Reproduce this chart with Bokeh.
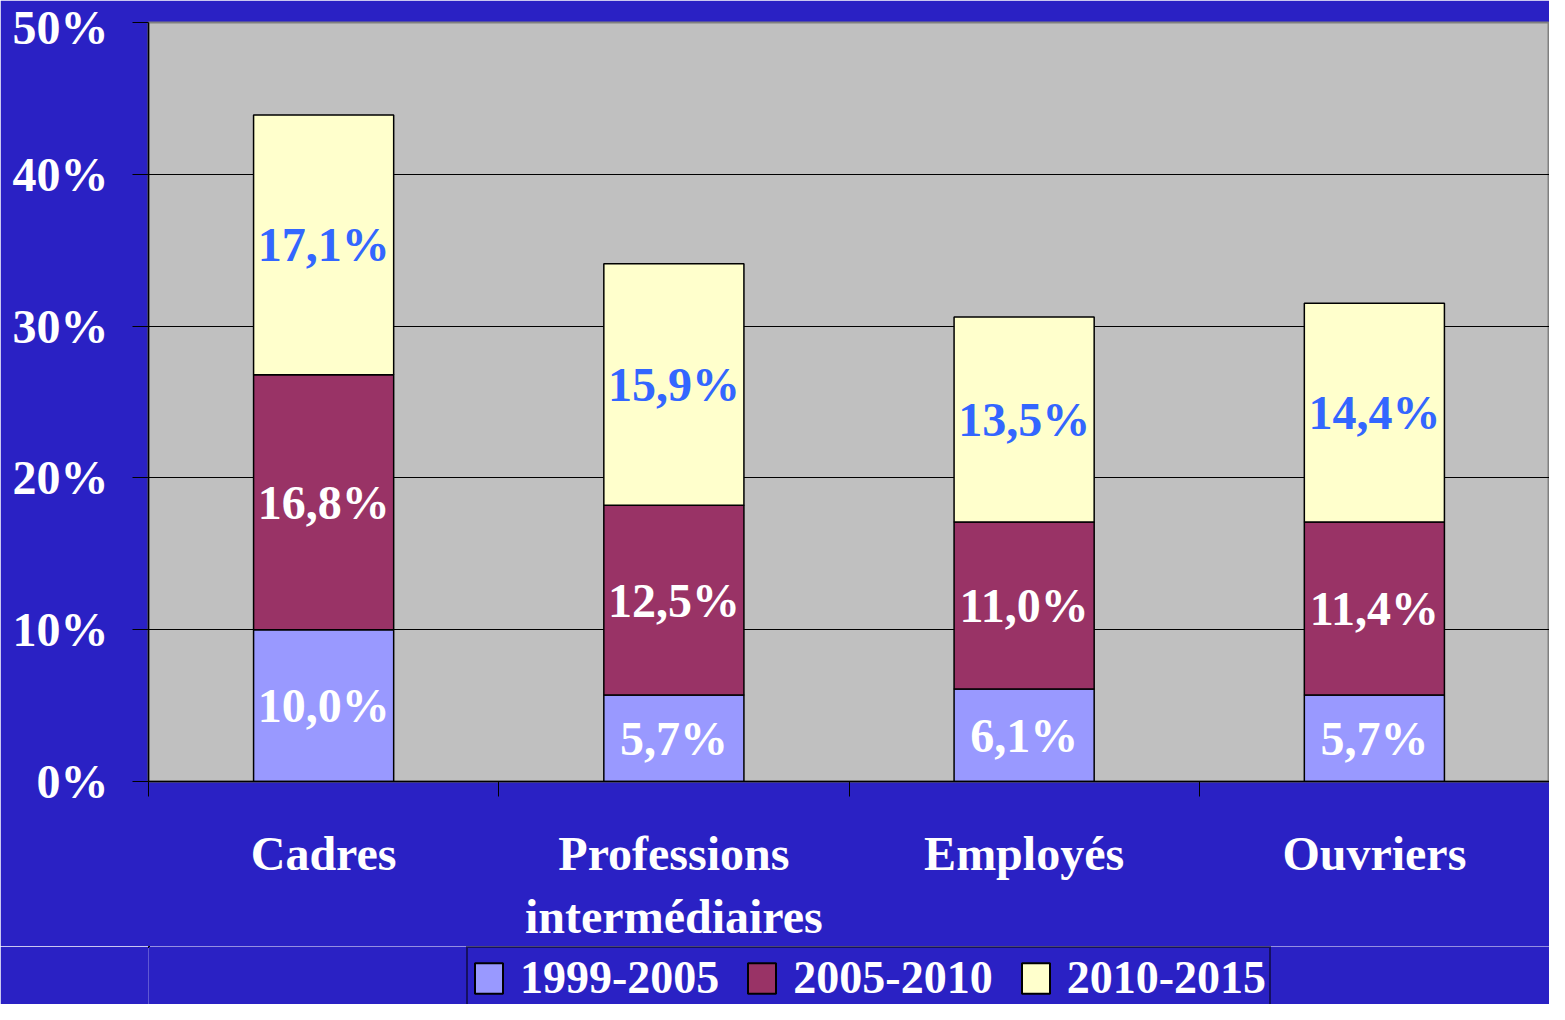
import numpy as np
from bokeh.plotting import figure
from bokeh.layouts import column
from bokeh.models import (Range1d, FixedTicker, Legend, LegendItem, ColumnDataSource,
                          PrintfTickFormatter)
from bokeh.core.properties import value
from bokeh.embed import file_html
from bokeh.resources import INLINE

# ---- data ----
categories = ["Cadres", "Professions\nintermédiaires", "Employés", "Ouvriers"]
periods = ["1999-2005", "2005-2010", "2010-2015"]
v_1999_2005 = [10.0, 5.7, 6.1, 5.7]
v_2005_2010 = [16.8, 12.5, 11.0, 11.4]
v_2010_2015 = [17.1, 15.9, 13.5, 14.4]
y_ticks = [0, 10, 20, 30, 40, 50]

series = [v_1999_2005, v_2005_2010, v_2010_2015]
colors = ["#9999FF", "#993366", "#FFFFCC"]
label_colors = ["white", "white", "#3366FF"]

FONT = "Liberation Serif"
FS = "48px"
BG = "#2A21C4"
W = 1549
LEFT = 148

n = len(categories)
xs = np.arange(n) + 0.5

p = figure(width=W, height=946, output_backend="svg", toolbar_location=None,
           x_range=Range1d(0, n), y_range=Range1d(y_ticks[0], y_ticks[-1]),
           min_border_left=LEFT, min_border_right=0, min_border_top=22,
           min_border_bottom=162)
p.background_fill_color = "#C0C0C0"
p.border_fill_color = BG
p.outline_line_color = "#808080"
p.outline_line_width = 2

# ---- legend strip (shares the bar sources; its view ranges show no bar) ----
pl = figure(width=W, height=58, output_backend="svg", toolbar_location=None,
            x_range=Range1d(n + 10, 2 * n + 10), y_range=Range1d(-20, -10),
            min_border_left=LEFT, min_border_right=0, min_border_top=0, min_border_bottom=0)
pl.axis.visible = False
pl.grid.visible = False
pl.background_fill_color = BG
pl.border_fill_color = BG
pl.outline_line_color = None

leg_renderers = []
bottom = np.zeros(n)
for vals, col, lcol in zip(series, colors, label_colors):
    vals = np.array(vals)
    top = bottom + vals
    src = ColumnDataSource(dict(
        x=xs, bottom=bottom, top=top, mid=(bottom + top) / 2,
        lab=[f"{v:.1f}%".replace(".", ",") for v in vals]))
    p.vbar(x="x", bottom="bottom", top="top", width=0.4, source=src,
           fill_color=col, line_color="black", line_width=1.5)
    p.text(x="x", y="mid", text="lab", source=src, text_align="center",
           text_baseline="middle", text_color=lcol, text_font=value(FONT),
           text_font_size=FS, text_font_style="bold")
    leg_renderers.append(pl.vbar(x="x", bottom="bottom", top="top", width=0.4, source=src,
                                 fill_color=col, line_color="black", line_width=2))
    bottom = top

# grid
p.xgrid.visible = False
p.ygrid.ticker = FixedTicker(ticks=y_ticks)
p.ygrid.grid_line_color = "black"
p.ygrid.grid_line_width = 1

# y axis
ya = p.yaxis[0]
ya.ticker = FixedTicker(ticks=y_ticks)
ya.formatter = PrintfTickFormatter(format="%d%%")
ya.major_tick_out = 16
ya.major_tick_in = 0
ya.minor_tick_line_color = None
ya.major_tick_line_color = "black"
ya.axis_line_color = "black"
ya.axis_line_width = 1.5
ya.major_label_standoff = 24
ya.major_label_text_font = FONT
ya.major_label_text_font_size = FS
ya.major_label_text_font_style = "bold"
ya.major_label_text_color = "white"

# x axis
xa = p.xaxis[0]
xa.ticker = FixedTicker(ticks=list(xs), minor_ticks=list(range(n + 1)))
xa.major_label_overrides = {float(x): c for x, c in zip(xs, categories)}
xa.major_tick_line_color = None
xa.minor_tick_line_color = "black"
xa.minor_tick_out = 15
xa.minor_tick_in = 0
xa.axis_line_color = "black"
xa.axis_line_width = 1.5
xa.major_label_standoff = 30
xa.major_label_text_font = FONT
xa.major_label_text_font_size = FS
xa.major_label_text_font_style = "bold"
xa.major_label_text_color = "white"

legend = Legend(items=[LegendItem(label=lab, renderers=[r]) for lab, r in zip(periods, leg_renderers)],
                orientation="horizontal", location=(318, -5))
legend.label_text_font = FONT
legend.label_text_font_size = "46px"
legend.label_text_font_style = "bold"
legend.label_text_color = "white"
legend.border_line_color = "black"
legend.border_line_width = 2
legend.background_fill_alpha = 0
legend.glyph_width = 35
legend.glyph_height = 38
legend.label_standoff = 14
legend.spacing = 25
legend.padding = 3
legend.margin = 0
pl.add_layout(legend, "center")

layout = column(p, pl, spacing=0)
open("out.html", "w").write(file_html(layout, INLINE))
